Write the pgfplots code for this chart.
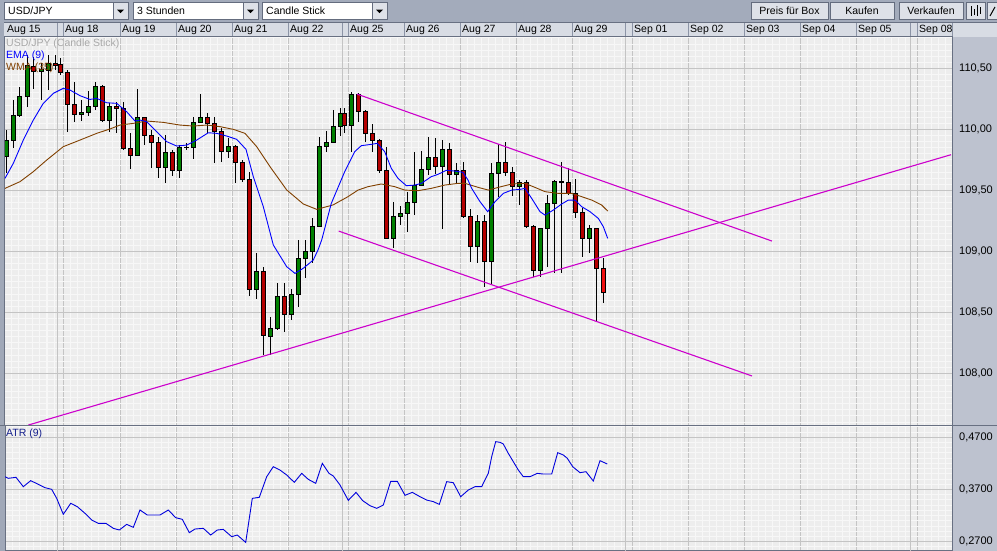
\documentclass[border=0pt]{standalone}
\usepackage{pgfplots}
\pgfplotsset{compat=1.18}
\usepackage{pgfplotstable}
\usepackage{fontspec}
\setmainfont{Liberation Sans}

\definecolor{toolbar}{RGB}{163,171,187}
\definecolor{headerbg}{RGB}{216,220,228}
\definecolor{headerln}{RGB}{140,148,166}
\definecolor{panelbg}{RGB}{189,194,207}
\definecolor{stripbg}{RGB}{160,168,184}
\definecolor{plotbg}{RGB}{237,237,237}
\definecolor{minorgr}{RGB}{247,247,247}
\definecolor{majorgr}{RGB}{196,196,196}
\definecolor{framec}{RGB}{104,112,130}
\definecolor{candlegreen}{RGB}{0,128,0}
\definecolor{candlered}{RGB}{180,0,0}
\definecolor{candlelast}{RGB}{240,16,16}
\definecolor{emac}{RGB}{0,0,255}
\definecolor{wmac}{RGB}{128,64,0}
\definecolor{trendc}{RGB}{204,0,204}
\definecolor{atrc}{RGB}{0,0,220}
\definecolor{atrlbl}{RGB}{20,30,140}
\definecolor{btnbg}{RGB}{222,225,232}
\definecolor{btnln}{RGB}{100,108,126}
\definecolor{lbltxt}{RGB}{168,168,168}

\newcommand\uif{\fontsize{10.5}{12}\selectfont}
\newcommand\uify{\fontsize{11}{13}\selectfont}

% 3-hour candles: X = time position, O H L C = USD/JPY prices
\pgfplotstableread{
X O H L C
6.8 109.776 109.994 109.639 109.912
13.3 109.912 110.240 109.844 110.117
20.0 110.112 110.349 110.104 110.273
27.3 110.273 110.609 110.186 110.527
34.0 110.519 110.595 110.336 110.472
41.3 110.472 110.541 110.240 110.494
48.3 110.486 110.609 110.322 110.541
55.0 110.541 110.609 110.486 110.527
60.7 110.535 110.582 110.445 110.464
67.3 110.464 110.486 109.981 110.207
74.3 110.207 110.390 110.063 110.123
81.3 110.125 110.240 110.071 110.142
88.3 110.136 110.317 110.109 110.191
95.7 110.186 110.390 110.158 110.355
102.7 110.355 110.363 110.063 110.076
109.7 110.076 110.213 109.981 110.191
116.7 110.191 110.227 109.967 110.172
123.3 110.172 110.227 109.830 109.844
130.3 109.844 109.967 109.672 109.784
137.3 109.784 110.336 109.781 110.098
144.3 110.098 110.104 109.871 109.948
151.7 109.948 109.994 109.680 109.893
158.3 109.893 109.940 109.598 109.686
165.3 109.686 109.953 109.563 109.811
172.3 109.811 109.830 109.617 109.661
179.7 109.661 109.871 109.604 109.852
186.7 109.852 109.885 109.830 109.855
193.3 109.852 110.104 109.757 110.057
200.3 110.057 110.295 110.054 110.098
207.3 110.098 110.136 109.967 110.049
214.3 110.049 110.104 109.729 109.981
221.3 109.981 110.008 109.735 109.817
228.3 109.817 109.926 109.762 109.863
235.3 109.863 109.871 109.563 109.727
242.3 109.727 109.748 109.571 109.590
249.3 109.590 109.653 108.634 108.688
256.3 108.688 108.989 108.606 108.833
263.3 108.833 108.874 108.150 108.306
270.3 108.306 108.464 108.150 108.369
277.3 108.369 108.738 108.355 108.634
284.3 108.628 108.738 108.341 108.483
291.3 108.483 108.688 108.437 108.647
298.3 108.647 109.093 108.541 108.942
305.3 108.942 109.093 108.779 108.997
312.3 108.997 109.276 108.902 109.208
319.3 109.208 109.940 109.208 109.863
326.3 109.858 109.990 109.817 109.893
333.3 109.893 110.158 109.893 110.024
340.3 110.021 110.172 109.948 110.131
344.3 110.131 110.172 109.967 110.030
351.3 110.030 110.308 109.817 110.286
358.3 110.286 110.295 110.057 110.144
365.3 110.150 110.158 109.893 109.967
372.3 109.967 110.041 109.817 109.907
379.3 109.912 109.920 109.647 109.661
386.3 109.661 109.858 109.106 109.106
393.3 109.106 109.407 109.024 109.284
400.3 109.284 109.374 109.215 109.311
407.3 109.311 109.483 109.155 109.401
414.3 109.401 109.817 109.297 109.543
421.3 109.543 109.822 109.543 109.672
428.3 109.672 109.940 109.625 109.770
435.3 109.770 109.926 109.631 109.694
442.3 109.694 109.912 109.188 109.836
449.3 109.836 109.885 109.543 109.631
456.3 109.631 109.721 109.557 109.661
463.3 109.661 109.729 109.270 109.284
470.3 109.289 109.352 108.915 109.038
477.3 109.038 109.297 108.909 109.248
484.3 109.248 109.297 108.704 108.915
491.3 108.915 109.721 108.724 109.639
498.3 109.639 109.879 109.448 109.729
505.3 109.729 109.893 109.620 109.644
512.3 109.647 109.688 109.456 109.535
519.3 109.530 109.590 109.379 109.565
526.3 109.565 109.584 109.188 109.202
533.3 109.202 109.215 108.792 108.846
540.3 108.846 109.188 108.792 109.188
547.3 109.188 109.461 108.874 109.393
554.3 109.393 109.584 108.819 109.576
561.3 109.576 109.734 108.819 109.570
568.3 109.565 109.680 109.461 109.475
575.3 109.475 109.590 109.278 109.319
582.3 109.319 109.360 108.956 109.106
589.3 109.106 109.215 108.983 109.188
596.3 109.188 109.188 108.431 108.860
}\candles

\pgfplotstableread{
X O H L C
603.3 108.860 108.942 108.573 108.663
}\lastcandle

\pgfplotsset{
  candlebase/.style={draw=none, mark=none, forget plot,
    error bars/y dir=both, error bars/y explicit, error bars/error mark=none},
  daygrid/.style={
    xmin=5, xmax=952,
    scale only axis, width=947pt,
    axis background/.style={fill=plotbg},
    xtick={5,63,120,176,232,288,348,404,460,516,572,632,688,744,800,856,917},
    extra x ticks={57,342,625,910},
    extra x tick labels={},
    extra x tick style={grid=major},
    minor xtick={5,12,...,57,63,70,...,336,348,355,...,621,632,639,...,905,917,924,...,952},
    grid=both,
    major grid style={draw=majorgr, line width=1pt},
    minor grid style={draw=minorgr, line width=1pt},
    tick style={draw=none},
    major tick length=0pt, minor tick length=0pt,
    axis line style={draw=framec, line width=1pt},
    yticklabel pos=right,
    yticklabel style={font=\uify, anchor=west, inner sep=0pt, xshift=7pt, text=black},
  },
}

\begin{document}
\begin{tikzpicture}[x=1pt,y=1pt]
% chrome
\fill[toolbar] (0,527) rectangle (997,551);
\fill[stripbg] (0,0) rectangle (5,528);
\fill[headerbg] (4,514) rectangle (997,528.3);
\draw[framec] (4,528.3) -- (997,528.3);
\draw[framec] (4,514) -- (997,514);
\foreach \xx in {57,63,120,176,232,288,342,348,404,460,516,572,625,632,688,744,800,856,910,917,952}
  \draw[headerln] (\xx,514) -- (\xx,528.3);
\fill[panelbg] (952,0) rectangle (997,514);

\newcommand\dropdown[3]{%
  \filldraw[fill=white, draw=btnln] (#1,531.7) rectangle (#2,548.3);
  \filldraw[fill=btnbg, draw=btnln] (#2-15,531.7) rectangle (#2,548.3);
  \fill[black] (#2-11,541.3) -- (#2-4,541.3) -- (#2-7.5,537.8) -- cycle;
  \node[anchor=west, inner sep=0pt, font=\uif] at (#1+4,540) {#3};}
\newcommand\btn[3]{%
  \filldraw[fill=btnbg, draw=btnln] (#1,531.7) rectangle (#2,548.3);
  \node[inner sep=0pt, font=\uif] at ({(#1+#2)/2},540) {#3};}
\dropdown{4}{128}{USD/JPY}
\dropdown{133}{258}{3 Stunden}
\dropdown{262}{387}{Candle Stick}
\btn{751}{828}{Preis für Box}
\btn{830}{894}{Kaufen}
\btn{899}{963}{Verkaufen}
\filldraw[fill=btnbg, draw=btnln] (966,531.7) rectangle (985,548.3);
\draw[black] (971,535) -- (971,545) (974,536) -- (974,542) (977,535) -- (977,546) (980,537) -- (980,544);
\filldraw[fill=btnbg, draw=btnln] (987,531.7) rectangle (1000,548.3);
\draw[black, line width=1pt] (990,535) -- (995,544);

% ---------------- main price panel ----------------
\begin{axis}[daygrid,
  at={(5pt,125pt)}, anchor=south west, height=389pt,
  ymin=107.568, ymax=110.757,
  xticklabels={Aug 15,Aug 18,Aug 19,Aug 20,Aug 21,Aug 22,Aug 25,Aug 26,Aug 27,Aug 28,Aug 29,Sep 01,Sep 02,Sep 03,Sep 04,Sep 05,Sep 08},
  xticklabel pos=upper,
  xticklabel style={font=\uif, anchor=west, inner sep=0pt, xshift=2pt, yshift=7pt, text=black},
  ytick={108,108.5,109,109.5,110,110.5},
  minor ytick={107.6,107.65,...,110.75},
  yticklabel style={/pgf/number format/.cd, fixed, fixed zerofill, precision=2, use comma, 1000 sep={}, assume math mode=true},
]
% wicks
\addplot[candlebase, error bars/error bar style={draw=black, line width=1pt}]
  table[x=X, y expr={(\thisrow{H}+\thisrow{L})/2}, y error expr={(\thisrow{H}-\thisrow{L})/2}] {\candles};
% body outlines
\addplot[candlebase, error bars/error bar style={draw=black, line width=5pt}]
  table[x=X, y expr={(\thisrow{O}+\thisrow{C})/2}, y error expr={abs(\thisrow{C}-\thisrow{O})/2+0.0041}] {\candles};
% rising bodies
\addplot[candlebase, restrict expr to domain={\thisrow{C}-\thisrow{O}}{0.0001:10},
  error bars/error bar style={draw=candlegreen, line width=3pt}]
  table[x=X, y expr={(\thisrow{O}+\thisrow{C})/2}, y error expr={max(abs(\thisrow{C}-\thisrow{O})/2-0.0041,0)}] {\candles};
% falling bodies
\addplot[candlebase, restrict expr to domain={\thisrow{C}-\thisrow{O}}{-10:-0.0001},
  error bars/error bar style={draw=candlered, line width=3pt}]
  table[x=X, y expr={(\thisrow{O}+\thisrow{C})/2}, y error expr={max(abs(\thisrow{C}-\thisrow{O})/2-0.0041,0)}] {\candles};
% current candle
\addplot[candlebase, error bars/error bar style={draw=black, line width=1pt}]
  table[x=X, y expr={(\thisrow{H}+\thisrow{L})/2}, y error expr={(\thisrow{H}-\thisrow{L})/2}] {\lastcandle};
\addplot[candlebase, error bars/error bar style={draw=black, line width=5pt}]
  table[x=X, y expr={(\thisrow{O}+\thisrow{C})/2}, y error expr={abs(\thisrow{C}-\thisrow{O})/2+0.0041}] {\lastcandle};
\addplot[candlebase, error bars/error bar style={draw=candlelast, line width=3pt}]
  table[x=X, y expr={(\thisrow{O}+\thisrow{C})/2}, y error expr={abs(\thisrow{C}-\thisrow{O})/2-0.0041}] {\lastcandle};

% WMA (35)
\addplot[wmac, line width=0.9pt, mark=none] coordinates {
(5,109.516) (20,109.571) (33.3,109.653) (46.7,109.748) (63.3,109.858) (80,109.912) (96.7,109.967) (110,110.003) (120,110.035) (133.3,110.049) (146.7,110.068) (163.3,110.057) (180,110.035) (193.3,110.027) (206.7,110.035) (220,110.022) (233.3,110.000) (245,109.967) (256.7,109.858) (270,109.694) (286.7,109.503) (303.3,109.388) (316.7,109.344) (333,109.380) (348,109.448) (358,109.502) (368,109.530) (381.3,109.552) (394.7,109.530) (404.7,109.502) (418,109.497) (431.3,109.516) (444.7,109.543) (458,109.557) (465,109.557) (478.3,109.524) (488.3,109.502) (498.3,109.524) (511.7,109.552) (525,109.557) (535,109.524) (545,109.489) (558.3,109.475) (571.7,109.475) (581.7,109.448) (591.7,109.420) (601.7,109.379) (607.7,109.330)};
% EMA (9)
\addplot[emac, line width=0.9pt, mark=none] coordinates {
(5,109.598) (13.3,109.721) (23.3,109.912) (33.3,110.076) (43.3,110.213) (53.3,110.295) (63.3,110.336) (70,110.322) (80,110.276) (90,110.245) (96.7,110.254) (106.7,110.218) (116.7,110.213) (126.7,110.144) (135,110.068) (140,110.076) (146.7,110.063) (156.7,109.981) (166.7,109.899) (176.7,109.863) (186.7,109.871) (196.7,109.912) (208.3,109.972) (216.7,109.967) (226.7,109.945) (236.7,109.918) (246,109.836) (253.3,109.612) (263.3,109.366) (273.3,109.052) (286.7,108.874) (295,108.819) (303.3,108.861) (313.3,108.929) (318,109.011) (321.7,109.093) (331.3,109.393) (344.7,109.653) (354.7,109.817) (361.3,109.866) (371.3,109.877) (377.3,109.885) (384.7,109.817) (391.3,109.680) (398,109.598) (406.3,109.538) (414.7,109.543) (421.3,109.557) (431.3,109.612) (438,109.631) (446.3,109.664) (454.7,109.658) (463,109.647) (468,109.584) (471.7,109.516) (480,109.407) (487.7,109.325) (495,109.407) (503.3,109.475) (511.7,109.502) (520,109.508) (525,109.516) (531.7,109.434) (540,109.325) (545,109.297) (553.3,109.338) (561.7,109.388) (568.3,109.420) (575,109.420) (581.7,109.366) (590,109.325) (598.3,109.270) (603.3,109.202) (607.7,109.106)};
% trend lines
\addplot[trendc, line width=1.1pt, mark=none] coordinates {(28.4,107.576) (951,109.792)};
\addplot[trendc, line width=1.1pt, mark=none] coordinates {(357,110.289) (772,109.084)};
\addplot[trendc, line width=1.1pt, mark=none] coordinates {(338.7,109.166) (752,107.978)};
\end{axis}

% ---------------- ATR panel ----------------
\begin{axis}[daygrid,
  at={(5pt,0pt)}, anchor=south west, height=125pt,
  ymin=0.2522, ymax=0.4916,
  xticklabels={},
  ytick={0.27,0.37,0.47},
  minor ytick={0.26,0.27,...,0.49},
  yticklabel style={/pgf/number format/.cd, fixed, fixed zerofill, precision=4, use comma, 1000 sep={}, assume math mode=true},
]
\addplot[atrc, line width=0.9pt, mark=none] coordinates {
(5,0.3945) (8.3,0.3914) (16,0.3933) (23.3,0.3754) (30.7,0.3869) (38.3,0.3799) (45,0.3735) (51.7,0.3703) (56.7,0.3530) (63.3,0.3224) (70.7,0.3435) (77.3,0.3371) (85,0.3243) (91.7,0.3115) (98.3,0.3051) (106,0.3051) (113.3,0.2956) (119.3,0.2924) (126.7,0.3032) (133.3,0.2975) (140,0.3307) (147.3,0.3211) (160,0.3211) (168.3,0.3307) (175.7,0.3160) (182.3,0.3128) (189.3,0.2873) (195,0.2943) (203.3,0.2956) (210.7,0.2828) (217.3,0.2924) (223.3,0.2936) (231.7,0.2796) (237.3,0.2828) (245.7,0.2687) (252.3,0.3530) (259.3,0.3550) (266.7,0.3945) (273.3,0.4137) (280,0.4073) (286.7,0.3977) (294.3,0.3837) (301.7,0.4009) (308.3,0.3894) (315.7,0.3818) (322.3,0.4201) (329,0.4009) (333.3,0.3958) (340,0.3786) (348.3,0.3492) (356,0.3645) (362.7,0.3486) (370,0.3390) (376.7,0.3339) (383.3,0.3403) (390.7,0.3856) (397.3,0.3856) (405,0.3588) (412.3,0.3645) (420,0.3562) (426.7,0.3498) (433.3,0.3467) (439.3,0.3415) (446.7,0.3850) (453.3,0.3830) (460.7,0.3562) (468.3,0.3690) (475,0.3754) (481.7,0.3754) (483.3,0.3818) (488.3,0.4009) (491.7,0.4329) (495.7,0.4616) (500,0.4603) (503.3,0.4571) (508.3,0.4392) (513.3,0.4233) (518.3,0.4073) (523.3,0.3945) (530,0.3945) (537.3,0.4009) (543.3,0.3996) (551.7,0.3996) (557.7,0.4405) (563.3,0.4361) (567.3,0.4297) (572.7,0.4137) (580,0.4022) (586,0.4041) (593.3,0.3862) (600,0.4252) (607.3,0.4188)};
\end{axis}

\draw[framec, line width=1pt] (0,125) -- (997,125);
% indicator captions
\node[anchor=west, inner sep=0pt, font=\uif, text=lbltxt] at (6,507.3) {USD/JPY (Candle Stick)};
\node[anchor=west, inner sep=0pt, font=\uif, text=emac] at (6,495) {EMA (9)};
\node[anchor=west, inner sep=0pt, font=\uif, text=wmac] at (6,483) {WMA (35)};
\node[anchor=west, inner sep=0pt, font=\uif, text=atrlbl] at (6,117) {ATR (9)};
\pgfresetboundingbox
\path[use as bounding box] (0,0) rectangle (997,551);
\end{tikzpicture}
\end{document}
